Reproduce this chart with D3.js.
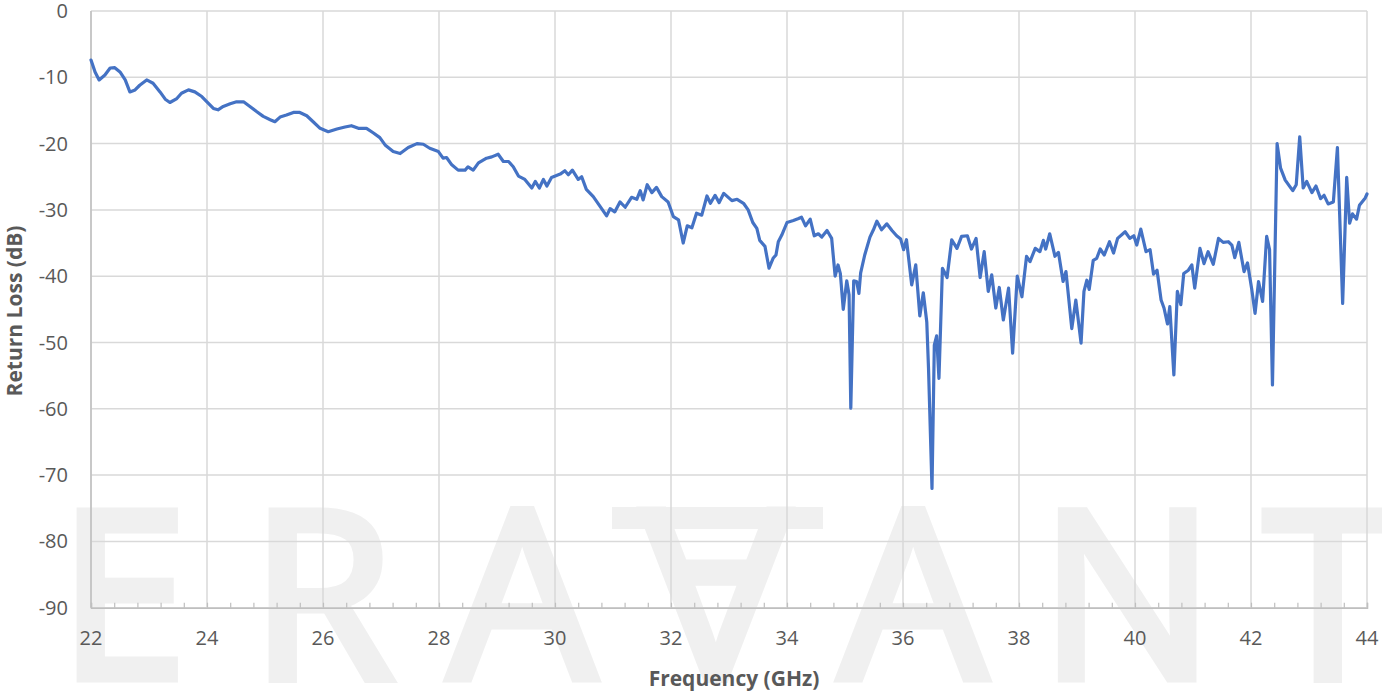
<!DOCTYPE html>
<html><head><meta charset="utf-8">
<script src="https://cdn.jsdelivr.net/npm/d3@7"></script>
<style>
html,body{margin:0;padding:0;background:#fff;}
svg{display:block;}
</style></head>
<body>
<svg id="chart" width="1382" height="692"></svg>
<script>
const freqGHz = [22.00,22.07,22.14,22.24,22.33,22.41,22.50,22.59,22.67,22.76,22.84,22.96,23.07,23.19,23.28,23.36,23.48,23.56,23.68,23.79,23.91,24.02,24.11,24.19,24.28,24.40,24.51,24.63,24.74,24.86,24.97,25.09,25.17,25.26,25.37,25.49,25.60,25.72,25.83,25.95,26.09,26.24,26.38,26.49,26.61,26.75,26.87,26.98,27.07,27.21,27.33,27.47,27.62,27.73,27.84,27.99,28.07,28.13,28.22,28.33,28.45,28.50,28.59,28.68,28.82,28.91,29.02,29.11,29.20,29.28,29.37,29.48,29.60,29.66,29.73,29.80,29.86,29.94,30.09,30.17,30.23,30.30,30.40,30.46,30.54,30.66,30.78,30.89,30.95,31.03,31.12,31.21,31.32,31.41,31.47,31.52,31.59,31.67,31.75,31.84,31.95,32.04,32.13,32.21,32.28,32.36,32.44,32.53,32.62,32.68,32.76,32.83,32.91,33.05,33.14,33.25,33.33,33.41,33.48,33.53,33.62,33.69,33.76,33.81,33.85,33.91,34.00,34.11,34.20,34.25,34.32,34.40,34.47,34.54,34.60,34.69,34.77,34.83,34.88,34.92,34.97,35.03,35.07,35.10,35.15,35.20,35.24,35.27,35.34,35.43,35.49,35.55,35.63,35.72,35.81,35.89,35.96,36.01,36.06,36.15,36.22,36.29,36.35,36.41,36.44,36.50,36.54,36.58,36.62,36.68,36.76,36.84,36.93,37.01,37.11,37.18,37.26,37.33,37.40,37.47,37.53,37.60,37.66,37.73,37.82,37.89,37.97,38.05,38.13,38.19,38.28,38.36,38.42,38.46,38.53,38.62,38.68,38.76,38.81,38.91,38.98,39.07,39.12,39.17,39.21,39.28,39.34,39.40,39.47,39.56,39.63,39.70,39.83,39.91,39.98,40.03,40.10,40.19,40.26,40.32,40.38,40.45,40.50,40.56,40.60,40.67,40.73,40.79,40.84,40.92,40.98,41.03,41.12,41.19,41.26,41.35,41.44,41.52,41.61,41.67,41.72,41.79,41.88,41.94,42.01,42.07,42.13,42.20,42.27,42.32,42.37,42.45,42.51,42.59,42.67,42.72,42.78,42.84,42.90,42.96,43.05,43.12,43.20,43.26,43.33,43.42,43.49,43.58,43.65,43.70,43.75,43.82,43.87,43.97,44.00];
const returnLossDb = [-7.4,-9.2,-10.4,-9.65,-8.6,-8.55,-9.2,-10.4,-12.2,-11.9,-11.2,-10.4,-10.9,-12.2,-13.3,-13.8,-13.2,-12.4,-11.9,-12.2,-12.9,-13.9,-14.7,-14.9,-14.4,-14.0,-13.7,-13.7,-14.4,-15.2,-15.9,-16.4,-16.7,-16.0,-15.7,-15.3,-15.3,-15.8,-16.7,-17.7,-18.2,-17.8,-17.5,-17.3,-17.7,-17.7,-18.4,-19.1,-20.2,-21.2,-21.5,-20.6,-20.0,-20.1,-20.7,-21.2,-22.2,-22.1,-23.2,-24.0,-24.0,-23.5,-24.0,-22.9,-22.2,-22.0,-21.6,-22.7,-22.7,-23.5,-24.9,-25.4,-26.7,-25.7,-26.7,-25.4,-26.4,-25.1,-24.6,-24.1,-24.7,-24.0,-25.4,-25.0,-26.9,-28.0,-29.5,-30.9,-29.8,-30.3,-28.8,-29.6,-28.1,-28.4,-27.1,-28.5,-26.2,-27.4,-26.6,-28.0,-28.8,-31.0,-31.5,-35.0,-32.4,-32.7,-30.5,-30.8,-27.9,-29.0,-27.8,-28.9,-27.5,-28.6,-28.4,-29.0,-30.0,-31.9,-32.8,-34.6,-35.5,-38.8,-37.3,-36.8,-34.8,-33.8,-31.9,-31.6,-31.3,-31.1,-32.4,-31.4,-33.9,-33.6,-34.1,-33.1,-34.3,-40.0,-38.3,-39.6,-45.0,-40.7,-42.8,-59.9,-40.7,-40.8,-42.6,-39.5,-36.8,-34.1,-33.0,-31.7,-33.0,-32.1,-33.1,-33.9,-34.4,-36.0,-34.5,-41.3,-38.3,-46.0,-42.5,-46.9,-53.9,-72.0,-50.4,-49.0,-55.4,-38.8,-40.2,-34.5,-35.8,-34.0,-33.9,-35.9,-34.3,-40.2,-36.3,-42.3,-39.8,-44.8,-41.7,-46.6,-41.8,-51.6,-40.0,-43.1,-37.0,-37.8,-35.8,-36.3,-34.6,-35.9,-33.6,-37.0,-36.4,-40.8,-39.3,-47.9,-43.6,-50.1,-42.3,-40.6,-42.0,-37.6,-37.3,-35.9,-36.8,-34.8,-36.5,-34.3,-33.3,-34.3,-33.9,-35.3,-32.9,-36.3,-36.0,-39.7,-39.1,-43.6,-44.8,-47.2,-44.6,-54.9,-42.3,-44.3,-39.6,-39.1,-38.3,-41.8,-35.8,-38.1,-36.3,-38.2,-34.3,-34.9,-34.8,-35.3,-37.2,-34.9,-39.3,-38.0,-41.8,-45.6,-40.8,-43.8,-34.0,-36.0,-56.4,-20.0,-23.7,-25.5,-26.5,-27.1,-26.2,-19.0,-26.7,-25.7,-27.4,-26.4,-28.3,-27.8,-29.1,-28.8,-20.6,-44.1,-25.1,-32.0,-30.6,-31.4,-29.3,-28.2,-27.6];
const xTicks = [22,24,26,28,30,32,34,36,38,40,42,44];
const yTicks = [0,-10,-20,-30,-40,-50,-60,-70,-80,-90];
const xTitle = "Frequency (GHz)";
const yTitle = "Return Loss (dB)";
const watermark = ["E","R","A","A","A","N","T"];

const svg = d3.select("#chart");
const m = {left:91, top:11, right:1367, bottom:607.7};
const x = d3.scaleLinear().domain([22,44]).range([m.left, m.right]);
const y = d3.scaleLinear().domain([-90,0]).range([m.bottom, m.top]);

// watermark (logo text, light grey, behind everything)
const wmX = [123, 322, 522, 716, 913, 1127, 1328];
const wm = svg.append("g").attr("fill","#f0f0f0").attr("stroke","#f0f0f0").attr("stroke-width",9)
  .attr("stroke-linejoin","miter")
  .attr("font-family","Open Sans, sans-serif").attr("font-size",232);
watermark.forEach((ch,i)=>{
  if(i===3){
    wm.append("text").attr("x",0).attr("y",0).attr("text-anchor","middle")
      .attr("transform",`translate(${wmX[i]},${511}) rotate(180)`).text(ch);
    wm.append("rect").attr("x",612).attr("y",507).attr("width",211).attr("height",22).attr("stroke","none");
  } else {
    wm.append("text").attr("x",wmX[i]).attr("y",678).attr("text-anchor","middle").text(ch);
  }
});

// gridlines
const grid = svg.append("g");
grid.selectAll("line.h").data(yTicks).join("line")
  .attr("x1",m.left).attr("x2",m.right).attr("y1",d=>y(d)).attr("y2",d=>y(d))
  .attr("stroke","#d9d9d9").attr("stroke-width",1.5);
grid.selectAll("line.v").data(xTicks).join("line")
  .attr("y1",m.top).attr("y2",m.bottom).attr("x1",d=>x(d)).attr("x2",d=>x(d))
  .attr("stroke","#d9d9d9").attr("stroke-width",1.5);

// axes lines
svg.append("line").attr("x1",m.left).attr("x2",m.left).attr("y1",m.top).attr("y2",m.bottom)
  .attr("stroke","#bfbfbf").attr("stroke-width",1.5);
const xAxis = d3.axisBottom(x).tickValues(d3.range(22,44.001,0.4)).tickSize(-5).tickFormat("");
const gx = svg.append("g").attr("transform",`translate(0,${m.bottom})`).call(xAxis);
gx.select(".domain").attr("stroke","#bfbfbf").attr("stroke-width",1.5);
gx.selectAll(".tick line").attr("stroke","#bfbfbf").attr("stroke-width",1.2);

// tick labels
svg.append("g").selectAll("text").data(xTicks).join("text")
  .attr("x",d=>x(d)).attr("y",645).attr("text-anchor","middle")
  .attr("font-family","Open Sans, sans-serif").attr("font-size",20).attr("fill","#595959")
  .text(d=>d);
svg.append("g").selectAll("text").data(yTicks).join("text")
  .attr("x",68).attr("y",d=>y(d)+7).attr("text-anchor","end")
  .attr("font-family","Open Sans, sans-serif").attr("font-size",20).attr("fill","#595959")
  .text(d=>d);

// titles
svg.append("text").attr("x",734).attr("y",686).attr("text-anchor","middle")
  .attr("font-family","Open Sans, sans-serif").attr("font-weight","bold").attr("font-size",21)
  .attr("fill","#595959").text(xTitle);
svg.append("text").attr("transform","translate(22,311) rotate(-90)").attr("text-anchor","middle")
  .attr("font-family","Open Sans, sans-serif").attr("font-weight","bold").attr("font-size",21)
  .attr("fill","#595959").text(yTitle);

// line
const data = freqGHz.map((f,i)=>({f, v:returnLossDb[i]}));
svg.append("path").datum(data)
  .attr("fill","none").attr("stroke","#4472c4").attr("stroke-width",3.2)
  .attr("stroke-linejoin","round").attr("stroke-linecap","round")
  .attr("d", d3.line().x(d=>x(d.f)).y(d=>y(d.v)));
</script>
</body></html>
